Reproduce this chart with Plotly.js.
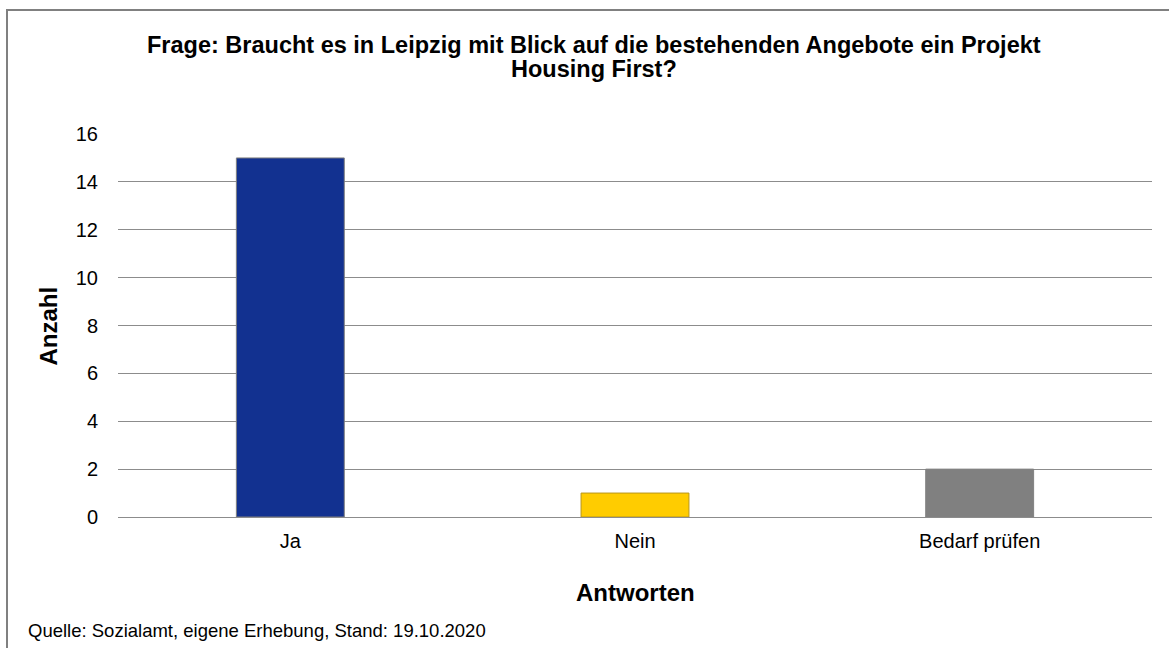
<!DOCTYPE html>
<html>
<head>
<meta charset="utf-8">
<script src="https://cdn.plot.ly/plotly-3.0.1.min.js"></script>
<style>
html,body{margin:0;padding:0;overflow:hidden;background:#fff;}
#chart{position:absolute;left:0;top:0;width:1169px;height:648px;}
#frame{position:absolute;left:6px;top:9px;width:1300px;height:800px;border:2px solid #808080;pointer-events:none;}
</style>
</head>
<body>
<div id="chart"></div>
<div id="frame"></div>
<script>
const categories = ["Ja", "Nein", "Bedarf prüfen"];
const values = [15, 1, 2];
const barColors = ["#123190", "#FFCC00", "#808080"];
const barLines = ["#7f7f7f", "#b8961a", "#808080"];
const yTicks = [0, 2, 4, 6, 8, 10, 12, 14, 16];
const titleLines = ["Frage: Braucht es in Leipzig mit Blick auf die bestehenden Angebote ein Projekt", "Housing First?"];
const xTitle = "Antworten";
const yTitle = "Anzahl";
const footer = "Quelle: Sozialamt, eigene Erhebung, Stand: 19.10.2020";

const font = "Liberation Sans, Arial, sans-serif";
const plotTop = 134, plotBottom = 517, plotLeft = 118, plotRight = 1152;
const py = p => (plotBottom - p) / (plotBottom - plotTop);
const px = p => (p - plotLeft) / (plotRight - plotLeft);

const trace = {
  type: "bar",
  x: categories,
  y: values,
  marker: {color: barColors, line: {color: barLines, width: 1}},
  hoverinfo: "x+y"
};

const layout = {
  width: 1169,
  height: 648,
  margin: {l: plotLeft, r: 1169 - plotRight, t: plotTop, b: 648 - plotBottom},
  paper_bgcolor: "#ffffff",
  plot_bgcolor: "#ffffff",
  font: {family: font, color: "#000", size: 20},
  showlegend: false,
  bargap: 0.687,
  xaxis: {
    type: "category",
    showgrid: false,
    showline: false,
    zeroline: false,
    ticks: "",
    ticklabelstandoff: 10,
    tickfont: {family: font, size: 20, color: "#000"}
  },
  yaxis: {
    range: [0, 16],
    tickvals: yTicks,
    ticktext: yTicks.map(String),
    showgrid: true,
    gridcolor: "#8c8c8c",
    gridwidth: 1,
    zeroline: true,
    zerolinecolor: "#8c8c8c",
    zerolinewidth: 1,
    showline: false,
    ticks: "",
    ticklabelstandoff: 19,
    tickfont: {family: font, size: 20, color: "#000"}
  },
  annotations: [
    {text: "<b>" + titleLines[0] + "</b>", xref: "paper", yref: "paper", x: px(594), y: py(45),
     xanchor: "center", yanchor: "middle", showarrow: false, font: {family: font, size: 23.5, color: "#000"}},
    {text: "<b>" + titleLines[1] + "</b>", xref: "paper", yref: "paper", x: px(594), y: py(69),
     xanchor: "center", yanchor: "middle", showarrow: false, font: {family: font, size: 23.5, color: "#000"}},
    {text: "<b>" + xTitle + "</b>", xref: "paper", yref: "paper", x: px(635.5), y: py(592),
     xanchor: "center", yanchor: "middle", showarrow: false, font: {family: font, size: 24, color: "#000"}},
    {text: "<b>" + yTitle + "</b>", xref: "paper", yref: "paper", x: px(47.5), y: py(326), textangle: -90,
     xanchor: "center", yanchor: "middle", showarrow: false, font: {family: font, size: 24, color: "#000"}},
    {text: footer, xref: "paper", yref: "paper", x: px(26), y: py(630),
     xanchor: "left", yanchor: "middle", showarrow: false, font: {family: font, size: 18.5, color: "#000"}}
  ]
};

Plotly.newPlot("chart", [trace], layout, {displayModeBar: false, staticPlot: true});
</script>
</body>
</html>
